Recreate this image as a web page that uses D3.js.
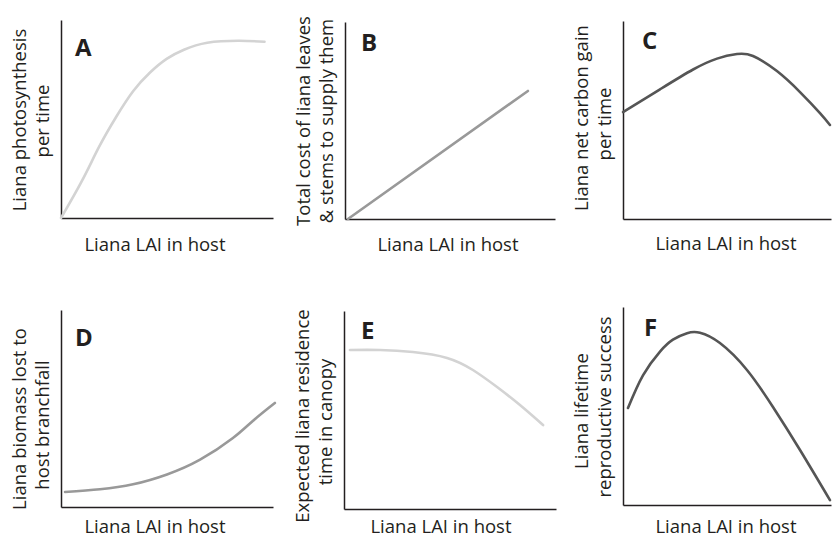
<!DOCTYPE html>
<meta charset='utf-8'>
<head>
  <style>
    body { margin: 0; background: #fff; }
    text { font-family: 'Open Sans', sans-serif; fill: #231f20; }
    .lab { font-size: 18.5px; }
    .letter { font-size: 24px; font-weight: 700; }
    .axis path { stroke: #231f20; stroke-width: 1.5px; fill: none; }
    .curve { fill: none; stroke-width: 2.6px; stroke-linecap: round; }
  </style>
</head>
<body>
<script src='https://d3js.org/d3.v7.min.js'></script>
<script>

// values, in arbitrary units (0-10 on both axes)
var letters = ['A', 'B', 'C', 'D', 'E', 'F'];
var xLabel = 'Liana LAI in host';
var yLabels = [
  ['Liana photosynthesis', 'per time'],
  ['Total cost of liana leaves', '& stems to supply them'],
  ['Liana net carbon gain', 'per time'],
  ['Liana biomass lost to', 'host branchfall'],
  ['Expected liana residence', 'time in canopy'],
  ['Liana lifetime', 'reproductive success']
];

var aX = [0, 1.0, 1.8, 2.6, 3.4, 4.2, 5.0, 5.8, 6.9, 8.4, 9.6];
var aY = [0, 1.9, 3.6, 5.1, 6.4, 7.35, 8.05, 8.5, 8.85, 8.95, 8.9];

var bX = [0.14, 8.71];
var bY = [0, 6.5];

var cX = [0, 1.78, 3.37, 4.52, 5.48, 6.25, 7.4, 8.51, 9.47, 9.95];
var cY = [5.4, 6.55, 7.55, 8.1, 8.33, 8.23, 7.47, 6.41, 5.35, 4.75];

var dX = [0.19, 1.84, 3.4, 5.0, 6.56, 8.11, 9.06, 10.09];
var dY = [0.76, 0.9, 1.15, 1.65, 2.4, 3.5, 4.38, 5.28];

var eX = [0.28, 1.7, 3.25, 4.86, 6.08, 7.22, 8.3, 9.39];
var eY = [8.03, 8.03, 7.93, 7.63, 7.02, 6.16, 5.25, 4.24];

var fX = [0.24, 0.96, 1.78, 2.4, 3.08, 3.7, 4.66, 5.96, 7.21, 8.51, 9.95];
var fY = [4.9, 6.55, 7.75, 8.35, 8.68, 8.7, 8.18, 6.82, 4.95, 2.78, 0.25];

var seriesX = [aX, bX, cX, dX, eX, fX];
var seriesY = [aY, bY, cY, dY, eY, fY];

// panel geometry
var panels = [
  {x0: 61,  x1: 273, top: 20,  base: 218, color: '#d3d3d3', labY: [120, 121], letter: [75, 56],   xlab: [155, 251]},
  {x0: 345, x1: 555, top: 22,  base: 219, color: '#999999', labY: [121, 121], letter: [361, 51],  xlab: [448, 251]},
  {x0: 623, x1: 831, top: 21,  base: 219, color: '#555555', labY: [118, 124], letter: [642, 49],  xlab: [726, 250]},
  {x0: 61,  x1: 273, top: 310, base: 507, color: '#999999', labY: [419, 425], letter: [75, 346],  xlab: [155, 533]},
  {x0: 344, x1: 556, top: 311, base: 509, color: '#d3d3d3', labY: [416, 422], letter: [361, 339], xlab: [441, 533]},
  {x0: 623, x1: 831, top: 307, base: 505, color: '#555555', labY: [411, 407], letter: [644, 336], xlab: [726, 533]}
];

var svg = d3.select('body').append('svg')
    .attr('width', 832)
    .attr('height', 539);

panels.forEach(function(p, i) {
  var x = d3.scaleLinear().domain([0, 10]).range([p.x0, p.x1]);
  var y = d3.scaleLinear().domain([0, 10]).range([p.base, p.top]);

  svg.append('g')
      .attr('class', 'axis')
      .attr('transform', 'translate(0,' + p.base + ')')
      .call(d3.axisBottom(x).ticks(0).tickSizeOuter(0));

  svg.append('g')
      .attr('class', 'axis')
      .attr('transform', 'translate(' + p.x0 + ',0)')
      .call(d3.axisLeft(y).ticks(0).tickSizeOuter(0));

  var pts = seriesX[i].map(function(v, k) { return [v, seriesY[i][k]]; });
  var line = d3.line()
      .x(function(d) { return x(d[0]); })
      .y(function(d) { return y(d[1]); })
      .curve(d3.curveNatural);

  svg.append('path')
      .datum(pts)
      .attr('class', 'curve')
      .attr('stroke', p.color)
      .attr('d', line);

  svg.append('text')
      .attr('class', 'letter')
      .attr('x', p.letter[0])
      .attr('y', p.letter[1])
      .text(letters[i]);

  svg.append('text')
      .attr('class', 'lab')
      .attr('x', p.xlab[0])
      .attr('y', p.xlab[1])
      .attr('text-anchor', 'middle')
      .text(xLabel);

  yLabels[i].forEach(function(t, k) {
    var bx = p.x0 + (k === 0 ? -35 : -12);
    svg.append('text')
        .attr('class', 'lab')
        .attr('text-anchor', 'middle')
        .attr('transform', 'translate(' + bx + ',' + p.labY[k] + ') rotate(-90)')
        .text(t);
  });
});

</script>
</body>
